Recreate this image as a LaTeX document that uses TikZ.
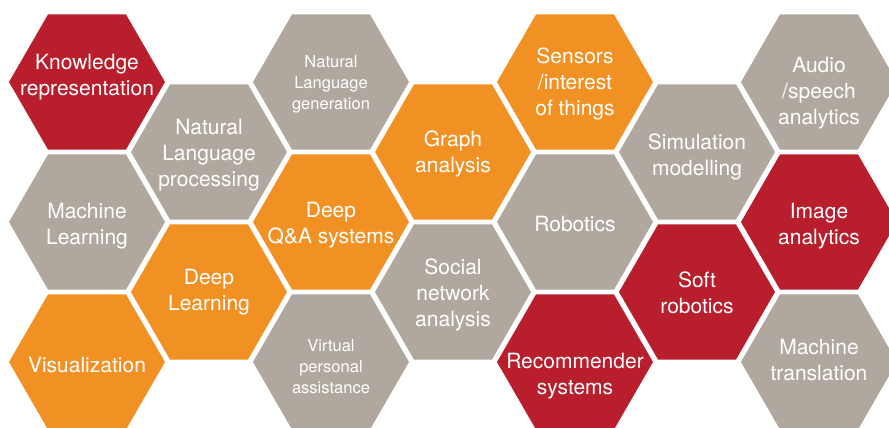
\documentclass[tikz,border=0pt]{standalone}
\usepackage{fontspec}
\setmainfont{TeX Gyre Heros}
\definecolor{hred}{HTML}{B91E2D}
\definecolor{horange}{HTML}{F29123}
\definecolor{hgray}{HTML}{B0A89F}
\tikzset{
  hexlbl/.style={text=white, align=center, inner sep=0pt, font=\fontsize{21}{26}\selectfont},
  hexsmall/.style={hexlbl, font=\fontsize{16.5}{21}\selectfont}
}
\newcommand\hexcell[6]{%
  \fill[#3] (#1,#2) +(0:78) -- +(60:78) -- +(120:78) -- +(180:78) -- +(240:78) -- +(300:78) -- cycle;
  \node[#4] (#5) at (#1,#2) {#6};}
\begin{document}
\begin{tikzpicture}[x=1pt,y=-1pt]
\useasboundingbox (0,0) rectangle (889,428);
\clip (0,0) rectangle (889,428);
% column 0
\hexcell{87}{82}{hred}{hexlbl,yshift=5pt}{know}{Knowledge\\representation}
\hexcell{87}{222}{hgray}{hexlbl,yshift=-4pt}{ml}{Machine\\Learning}
\hexcell{87}{362}{horange}{hexlbl,yshift=-3pt}{vis}{Visualization}
% column 1
\hexcell{209}{152}{hgray}{hexlbl,yshift=-3pt}{nlp}{Natural\\Language\\processing}
\hexcell{209}{292}{horange}{hexlbl}{dl}{Deep\\Learning}
% column 2
\hexcell{331}{82}{hgray}{hexsmall,yshift=-2pt}{nlg}{Natural\\Language\\generation}
\hexcell{331}{222}{horange}{hexlbl,yshift=-3.5pt}{qa}{Deep\\Q\&A systems}
\hexcell{331}{362}{hgray}{hexsmall,yshift=-5pt}{vpa}{Virtual\\personal\\assistance}
% column 3
\hexcell{453}{152}{horange}{hexlbl,yshift=-1.5pt}{graph}{Graph\\analysis}
\hexcell{453}{292}{hgray}{hexlbl,yshift=-2.5pt}{sna}{Social\\network\\analysis}
% column 4
\hexcell{575}{82}{horange}{hexlbl,yshift=-2pt}{sens}{Sensors\\/interest\\of things}
\hexcell{575}{222}{hgray}{hexlbl,yshift=-2pt}{rob}{Robotics}
\hexcell{575}{362}{hred}{hexlbl,yshift=-14pt}{rec}{Recommender\\systems}
% column 5
\hexcell{697}{152}{hgray}{hexlbl,yshift=-5pt}{sim}{Simulation\\modelling}
\hexcell{697}{292}{hred}{hexlbl,yshift=-1pt}{soft}{Soft\\robotics}
% column 6
\hexcell{819}{82}{hgray}{hexlbl,yshift=-11.5pt}{audio}{Audio\\/speech\\analytics}
\hexcell{819}{222}{hred}{hexlbl,yshift=-4pt}{img}{Image\\analytics}
\hexcell{819}{362}{hgray}{hexlbl,yshift=1.5pt}{mt}{Machine\\translation}
\end{tikzpicture}
\end{document}
